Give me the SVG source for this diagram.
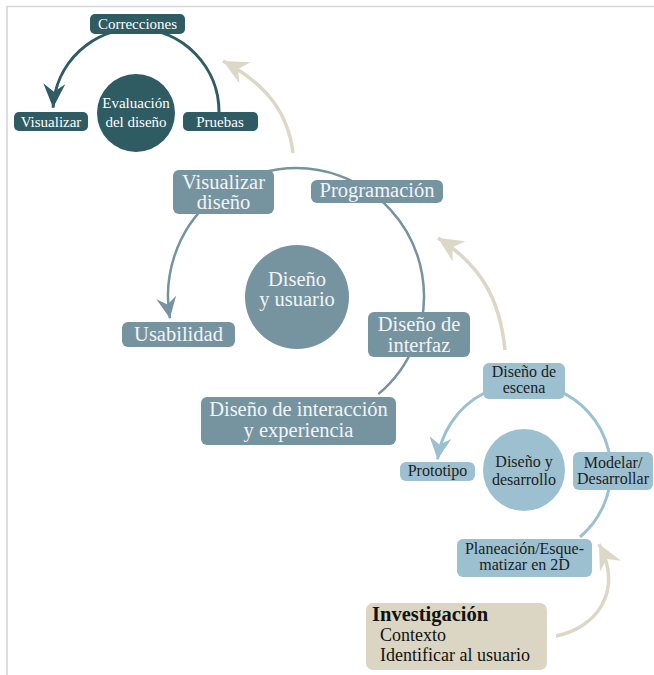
<svg xmlns="http://www.w3.org/2000/svg" width="654" height="675" viewBox="0 0 654 675">
<style>
text{font-family:"Liberation Serif","DejaVu Serif",serif;text-anchor:middle}
.teal{fill:#2f5b62}
.mid{fill:#7693a0}
.lb{fill:#9dc0d0}
.tw{fill:#ffffff;font-size:15px}
.mw{fill:#f2f5f6;font-size:20.5px}
.ld{fill:#1c1c1c;font-size:16px}
.conn{fill:none}
</style>
<defs>
<marker id="aTeal" markerUnits="userSpaceOnUse" viewBox="-26 -13 28 26" markerWidth="28" markerHeight="26" refX="0" refY="0" orient="auto"><path d="M0,0 L-24,-11 L-16,0 L-24,11 Z" fill="#2f5b62"/></marker>
<marker id="aMid" markerUnits="userSpaceOnUse" viewBox="-26 -13 28 26" markerWidth="28" markerHeight="26" refX="0" refY="0" orient="auto"><path d="M0,0 L-21,-10 L-14,0 L-21,10 Z" fill="#7693a0"/></marker>
<marker id="aLb" markerUnits="userSpaceOnUse" viewBox="-26 -13 28 26" markerWidth="28" markerHeight="26" refX="0" refY="0" orient="auto"><path d="M0,0 L-22,-11 L-15,0 L-22,11 Z" fill="#9dc0d0"/></marker>
<marker id="aBg" markerUnits="userSpaceOnUse" viewBox="-28 -14 30 28" markerWidth="30" markerHeight="28" refX="0" refY="0" orient="auto"><path d="M0,0 L-25,-12 L-17,0 L-25,12 Z" fill="#dbd8c5"/></marker>
</defs>
<rect width="654" height="675" fill="#ffffff"/>
<path d="M7 675 V6.5 H654" fill="none" stroke="#d8d8d8" stroke-width="1.6"/>

<g id="connectors">
<path class="conn" d="M219 112 A83 83 0 0 0 53.1 107.7" stroke="#2f5b62" stroke-width="3" marker-end="url(#aTeal)"/>
<path class="conn" d="M378.3 394.1 A128 128 0 1 0 169.9 318.2" stroke="#7693a0" stroke-width="2.5" marker-end="url(#aMid)"/>
<path class="conn" d="M580 537 A87 87 0 1 0 437.6 459.4" stroke="#9dc0d0" stroke-width="3" marker-end="url(#aLb)"/>
<path class="conn" d="M556 636 C596 628 624 592 599 544" stroke="#dbd8c5" stroke-width="3.5" marker-end="url(#aBg)"/>
<path class="conn" d="M505 350 C500 300 482 266 438 238" stroke="#dbd8c5" stroke-width="3.5" marker-end="url(#aBg)"/>
<path class="conn" d="M293 153 C288 112 266 84 223 61" stroke="#dbd8c5" stroke-width="3.5" marker-end="url(#aBg)"/>
</g>

<g id="evaluacion">
<circle class="teal" cx="136" cy="113" r="39"/>
<text class="tw" x="136" y="108">Evaluación</text>
<text class="tw" x="136" y="127">del diseño</text>
</g>
<g id="correcciones">
<rect class="teal" x="90" y="14" width="95" height="20" rx="5"/>
<text class="tw" x="137.5" y="29">Correcciones</text>
</g>
<g id="visualizar">
<rect class="teal" x="14" y="112" width="74" height="19" rx="5"/>
<text class="tw" x="51" y="127">Visualizar</text>
</g>
<g id="pruebas">
<rect class="teal" x="183" y="112" width="75" height="19" rx="5"/>
<text class="tw" x="220" y="127">Pruebas</text>
</g>

<g id="diseno-usuario">
<circle class="mid" cx="297" cy="297" r="52"/>
<text class="mw" x="297" y="286">Diseño</text>
<text class="mw" x="297" y="306">y usuario</text>
</g>
<g id="visualizar-diseno">
<rect class="mid" x="173" y="170" width="101" height="44" rx="6"/>
<text class="mw" x="223.5" y="189">Visualizar</text>
<text class="mw" x="223.5" y="209">diseño</text>
</g>
<g id="programacion">
<rect class="mid" x="311" y="180" width="132" height="23" rx="6"/>
<text class="mw" x="377" y="197">Programación</text>
</g>
<g id="diseno-interfaz">
<rect class="mid" x="368" y="312" width="102" height="45" rx="6"/>
<text class="mw" x="419" y="331">Diseño de</text>
<text class="mw" x="419" y="352">interfaz</text>
</g>
<g id="diseno-interaccion">
<rect class="mid" x="201" y="397" width="195" height="48" rx="6"/>
<text class="mw" x="298.5" y="416">Diseño de interacción</text>
<text class="mw" x="298.5" y="437">y experiencia</text>
</g>
<g id="usabilidad">
<rect class="mid" x="122" y="322" width="113" height="25" rx="6"/>
<text class="mw" x="178.5" y="341">Usabilidad</text>
</g>

<g id="diseno-desarrollo">
<circle class="lb" cx="524" cy="470" r="41"/>
<text class="ld" x="524" y="467">Diseño y</text>
<text class="ld" x="524" y="485">desarrollo</text>
</g>
<g id="diseno-escena">
<rect class="lb" x="483" y="363" width="82" height="36" rx="6"/>
<text class="ld" x="524" y="377">Diseño de</text>
<text class="ld" x="524" y="393">escena</text>
</g>
<g id="prototipo">
<rect class="lb" x="400" y="462" width="75" height="19" rx="6"/>
<text class="ld" x="437.5" y="476">Prototipo</text>
</g>
<g id="modelar">
<rect class="lb" x="573" y="452" width="80" height="38" rx="6"/>
<text class="ld" x="613" y="468">Modelar/</text>
<text class="ld" x="613" y="484">Desarrollar</text>
</g>
<g id="planeacion">
<rect class="lb" x="457" y="539" width="135" height="38" rx="6"/>
<text class="ld" x="524.5" y="554">Planeación/Esque-</text>
<text class="ld" x="524.5" y="570">matizar en 2D</text>
</g>

<g id="investigacion">
<rect x="366" y="603" width="181" height="67" rx="7" fill="#dad6c3"/>
<text x="372" y="621" style="text-anchor:start;font-weight:bold;font-size:20.5px;fill:#111">Investigación</text>
<text x="380" y="641" style="text-anchor:start;font-size:18px;fill:#111">Contexto</text>
<text x="380" y="661" style="text-anchor:start;font-size:18px;fill:#111">Identificar al usuario</text>
</g>
</svg>
